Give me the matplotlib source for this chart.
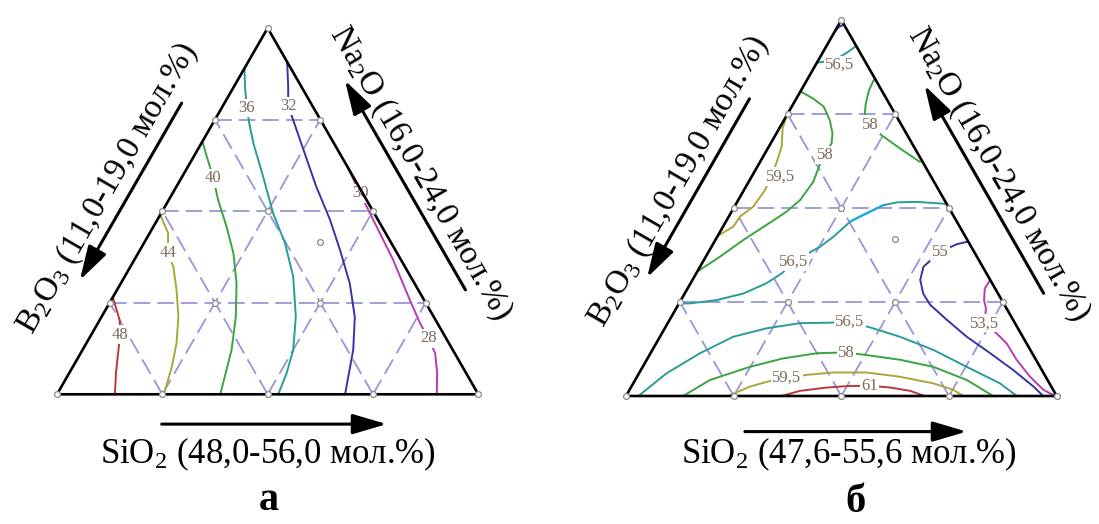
import numpy as np
import matplotlib
matplotlib.use('Agg')
import matplotlib.pyplot as plt

plt.rcParams['font.family'] = ['Liberation Serif', 'DejaVu Serif']
plt.rcParams['mathtext.fontset'] = 'custom'
plt.rcParams['mathtext.rm'] = 'Liberation Serif'
plt.rcParams['mathtext.it'] = 'Liberation Serif:italic'
plt.rcParams['lines.scale_dashes'] = False

S3 = np.sqrt(3) / 2
SPAN = 8.0          # every composition range is 8 mol.% wide
NA_LO = 16.0        # Na2O lower bound, both panels

# ---------------- panel а: SiO2 48,0-56,0 / Na2O 16,0-24,0 / B2O3 11,0-19,0
SI_LO_A = 48.0

a48_si = [48.00, 48.38, 48.55, 48.71, 48.89, 49.10]
a48_na = [18.12, 17.62, 17.30, 16.90, 16.46, 16.00]

a44_si = [48.00, 48.35, 48.56, 48.82, 49.13, 49.46, 49.71, 49.88, 50.03]
a44_na = [19.92, 19.52, 19.09, 18.78, 18.28, 17.69, 17.12, 16.60, 16.00]

a40_si = [48.00, 48.25, 48.61, 48.94, 49.39, 49.81, 50.20, 50.55, 50.83, 51.10]
a40_na = [21.52, 21.19, 20.72, 20.24, 19.66, 19.08, 18.42, 17.69, 16.97, 16.00]

a36_si = [48.00, 48.21, 48.48, 48.69, 48.99, 49.54, 50.13, 50.68, 51.20, 51.69,
          52.00, 52.13, 52.20]
a36_na = [23.12, 22.72, 22.25, 21.92, 21.48, 20.75, 19.95, 19.30, 18.57, 17.69,
          16.97, 16.46, 16.00]

a32_si = [48.74, 49.03, 49.24, 49.49, 50.01, 50.66, 51.28, 51.80, 52.35, 52.81,
          53.14, 53.47]
a32_na = [23.26, 22.72, 22.30, 21.99, 21.34, 20.53, 19.81, 19.15, 18.42, 17.69,
          16.97, 16.00]

a28_si = [51.02, 51.56, 52.10, 52.92, 53.67, 54.12, 54.44, 54.73, 54.99, 55.21]
a28_na = [20.98, 20.39, 19.81, 18.93, 18.06, 17.55, 17.22, 16.90, 16.46, 16.00]

lab_a_lev = [48, 44, 40, 36, 32, 30, 28]
lab_a_si = [48.55, 48.56, 48.61, 48.48, 49.24, 51.56, 54.44]
lab_a_na = [17.30, 19.09, 20.72, 22.25, 22.30, 20.39, 17.22]

# ---------------- panel б: SiO2 47,6-55,6 / Na2O 16,0-24,0 / B2O3 11,0-19,0
SI_LO_B = 47.6

b55top_si = [47.60, 47.63, 47.69]
b55top_na = [23.77, 23.85, 23.90]

b565top_si = [47.60, 47.91, 48.07, 48.14]
b565top_na = [23.09, 23.15, 23.33, 23.43]

b58left_si = [47.62, 47.91, 48.19, 48.45, 48.64, 48.73, 48.73, 48.74, 48.80, 48.75,
              48.62, 48.39, 48.12, 47.86, 47.62]
b58left_na = [22.47, 22.33, 22.16, 21.87, 21.59, 21.38, 21.13, 20.90, 20.56, 20.17,
              19.92, 19.64, 19.32, 18.96, 18.67]

b58right_si = [48.84, 48.86, 48.94, 49.03, 49.25, 49.57, 50.05, 50.57]
b58right_na = [22.72, 22.51, 22.23, 22.01, 21.77, 21.55, 21.27, 20.98]

b595top_si = [47.62, 47.66, 47.84, 47.91, 47.97, 47.99, 47.95, 47.81, 47.79, 47.65, 47.60]
b595top_na = [21.90, 21.70, 21.30, 20.98, 20.67, 20.38, 20.03, 19.82, 19.60, 19.46, 19.40]

b565mid_si = [51.48, 50.93, 50.57, 50.35, 50.04, 49.91, 49.76, 49.62, 49.28, 49.19,
              49.01, 48.69, 48.26, 47.80, 47.62]
b565mid_na = [20.09, 20.13, 20.12, 20.06, 19.82, 19.71, 19.39, 19.18, 18.86, 18.61,
              18.40, 18.18, 18.04, 17.97, 17.97]

b565low_si = [47.83, 48.11, 48.52, 48.96, 49.49, 50.06, 50.61, 50.97, 51.47, 52.06,
              52.82, 53.62, 54.41, 54.86]
b565low_na = [16.00, 16.48, 16.91, 17.26, 17.44, 17.55, 17.56, 17.58, 17.44, 17.26,
              16.98, 16.62, 16.27, 16.00]

b58low_si = [48.66, 48.99, 49.59, 50.12, 50.69, 50.99, 51.24, 51.64, 52.31, 53.00,
             53.76, 54.42]
b58low_na = [16.00, 16.34, 16.62, 16.80, 16.91, 16.92, 16.92, 16.87, 16.77, 16.62,
             16.34, 16.00]

b595low_si = [49.50, 49.80, 50.14, 50.40, 50.73, 51.20, 51.82, 52.48, 53.17, 53.62, 53.86]
b595low_na = [16.00, 16.20, 16.33, 16.38, 16.45, 16.50, 16.50, 16.41, 16.27, 16.13, 16.00]

b61_si = [50.49, 50.78, 51.24, 51.59, 52.01, 52.42, 52.82, 53.15]
b61_na = [16.00, 16.11, 16.18, 16.21, 16.22, 16.18, 16.11, 16.00]

b55_si = [52.29, 52.13, 51.90, 51.75, 51.83, 52.03, 52.28, 52.75, 53.30, 53.91,
          54.52, 55.07, 55.35]
b55_na = [19.28, 19.23, 19.07, 18.75, 18.47, 18.18, 17.94, 17.62, 17.26, 16.91,
          16.55, 16.20, 16.00]

b535_si = [53.13, 53.12, 53.23, 53.35, 53.49, 53.82, 54.11, 54.47, 54.90, 55.29, 55.57]
b535_na = [18.47, 18.29, 18.04, 17.87, 17.55, 17.33, 17.12, 16.77, 16.41, 16.13, 16.00]

lab_b_lev = [56.5, 58, 58, 59.5, 56.5, 56.5, 58, 59.5, 61, 55, 53.5]
lab_b_si = [48.05, 48.73, 49.25, 48.13, 49.28, 50.97, 51.24, 50.40, 52.01, 51.90, 53.49]
lab_b_na = [23.04, 21.13, 21.77, 20.67, 18.86, 17.58, 16.92, 16.38, 16.22, 19.07, 17.55]

# colours go from the highest level down
palette = ['#b83a36', '#aba63a', '#3ba43f', '#2a9c98', '#3535a8', '#b53cb5']
grid_col = '#9696da'
label_col = '#7d6a58'


def to_xy(si, na, si_lo):
    a_si = (np.asarray(si, dtype=float) - si_lo) / SPAN
    a_na = (np.asarray(na, dtype=float) - NA_LO) / SPAN
    return a_si + a_na / 2, a_na * S3


def frac_xy(a_si, a_na):
    return a_si + a_na / 2, a_na * S3


def fmt(v):
    return ('%g' % v).replace('.', ',')


def draw_panel(ax, si_lo, lines, labels, col):
    ax.set_xlim(0, 1)
    ax.set_ylim(0, S3)
    ax.axis('off')

    # quarter grid
    for t in (0.25, 0.5, 0.75):
        for p, q in [((0, t), (1 - t, t)), ((t, 0), (t, 1 - t)), ((1 - t, 0), (0, 1 - t))]:
            x0, y0 = frac_xy(*p)
            x1, y1 = frac_xy(*q)
            ax.plot([x0, x1], [y0, y1], color=grid_col, lw=1.3, dashes=(12, 5),
                    zorder=1, clip_on=False)

    for lev, si, na in lines:
        x, y = to_xy(si, na, si_lo)
        ax.plot(x, y, color=col[lev], lw=1.4, zorder=2, clip_on=False,
                solid_capstyle='round')

    for lev, si, na in zip(*labels):
        x, y = to_xy(si, na, si_lo)
        ax.text(x, y, fmt(lev), fontsize=12, color=label_col, ha='center', va='center',
                zorder=4, bbox=dict(boxstyle='square,pad=0.08', fc='white', ec='none'))

    # triangle
    ax.plot([0, 1, 0.5, 0], [0, 0, S3, 0], color='black', lw=1.9, zorder=5,
            clip_on=False, solid_joinstyle='miter')

    # lattice nodes and the centre of the design
    nodes = [(i / 4, j / 4) for i in range(5) for j in range(5 - i)]
    nodes.append((5 / 12, 5 / 12))
    nx, ny = frac_xy(np.array([n[0] for n in nodes]), np.array([n[1] for n in nodes]))
    ax.plot(nx, ny, 'o', ms=4.2, mfc='white', mec='#8a8a8a', mew=0.9, zorder=6,
            clip_on=False)


def arrow(ax, tail, tip):
    ax.annotate('', xy=tip, xytext=tail, annotation_clip=False,
                arrowprops=dict(arrowstyle='-|>,head_length=0.95,head_width=0.28',
                                mutation_scale=22, lw=2.2, color='black',
                                shrinkA=0, shrinkB=0))


def edge_point(edge, f, d):
    # f - fraction along the edge, d - offset outward
    if edge == 'left':      # from B2O3 corner up to Na2O corner
        return 0.5 * f - S3 * d, S3 * f + 0.5 * d
    # right edge, from Na2O corner down to SiO2 corner
    return 0.5 + 0.5 * f + S3 * d, S3 - S3 * f + 0.5 * d


def axis_labels(ax, si_text, letter, p):
    x, y = edge_point('left', p['lt_f'], p['lt_d'])
    ax.text(x, y, 'B$_2$O$_3$ (11,0-19,0 мол.%)', fontsize=24, rotation=60,
            rotation_mode='anchor', ha='center', va='center')
    arrow(ax, edge_point('left', p['la'][0], p['la_d']), edge_point('left', p['la'][1], p['la_d']))

    x, y = edge_point('right', p['rt_f'], p['rt_d'])
    ax.text(x, y, 'Na$_2$O (16,0-24,0 мол.%)', fontsize=24, rotation=-60,
            rotation_mode='anchor', ha='center', va='center')
    arrow(ax, edge_point('right', p['ra'][0], p['ra_d']), edge_point('right', p['ra'][1], p['ra_d']))

    arrow(ax, (p['ba'][0], p['ba_y']), (p['ba'][1], p['ba_y']))
    ax.text(p['bt_x'], p['bt_y'], si_text, fontsize=25, ha='center', va='baseline')
    ax.text(p['let_x'], p['let_y'], letter, fontsize=29, fontweight='bold',
            ha='center', va='baseline')


fig = plt.figure(figsize=(10.99, 5.24), dpi=100)

ax_a = fig.add_axes([57 / 1099, 129.7 / 524, 421.3 / 1099, 366.3 / 524])
ax_b = fig.add_axes([626 / 1099, 128 / 524, 430.7 / 1099, 376 / 524])

lev_a = [48, 44, 40, 36, 32, 28]
col_a = dict(zip(lev_a, palette))
col_a[30] = palette[5]
lines_a = [(48, a48_si, a48_na), (44, a44_si, a44_na), (40, a40_si, a40_na),
           (36, a36_si, a36_na), (32, a32_si, a32_na), (28, a28_si, a28_na)]
draw_panel(ax_a, SI_LO_A, lines_a, (lab_a_lev, lab_a_si, lab_a_na), col_a)

lev_b = [61, 59.5, 58, 56.5, 55, 53.5]
col_b = dict(zip(lev_b, palette))
lines_b = [(55, b55top_si, b55top_na), (56.5, b565top_si, b565top_na),
           (58, b58left_si, b58left_na), (58, b58right_si, b58right_na),
           (59.5, b595top_si, b595top_na), (56.5, b565mid_si, b565mid_na),
           (56.5, b565low_si, b565low_na), (58, b58low_si, b58low_na),
           (59.5, b595low_si, b595low_na), (61, b61_si, b61_na),
           (55, b55_si, b55_na), (53.5, b535_si, b535_na)]
draw_panel(ax_b, SI_LO_B, lines_b, (lab_b_lev, lab_b_si, lab_b_na), col_b)
# the brighter stretch of the middle 56,5 line
cx, cy = to_xy(b565mid_si[3:6], b565mid_na[3:6], SI_LO_B)
ax_b.plot(cx, cy, color='#1fa8e8', lw=1.5, zorder=3, clip_on=False)

axis_labels(ax_a, 'SiO$_2$ (48,0-56,0 мол.%)', 'а',
            dict(lt_f=0.482, lt_d=0.140, la=(0.744, 0.261), la_d=0.088,
                 rt_f=0.478, rt_d=0.142, ra=(0.771, 0.199), ra_d=0.097,
                 ba=(0.2485, 0.7826), ba_y=-0.0705, bt_x=0.5016, bt_y=-0.163,
                 let_x=0.503, let_y=-0.2735))
axis_labels(ax_b, 'SiO$_2$ (47,6-55,6 мол.%)', 'б',
            dict(lt_f=0.489, lt_d=0.142, la=(0.736, 0.261), la_d=0.094,
                 rt_f=0.488, rt_d=0.138, ra=(0.78, 0.227), ra_d=0.092,
                 ba=(0.276, 0.791), ba_y=-0.082, bt_x=0.518, bt_y=-0.155,
                 let_x=0.532, let_y=-0.267))

fig.savefig('out.png', dpi=100)
